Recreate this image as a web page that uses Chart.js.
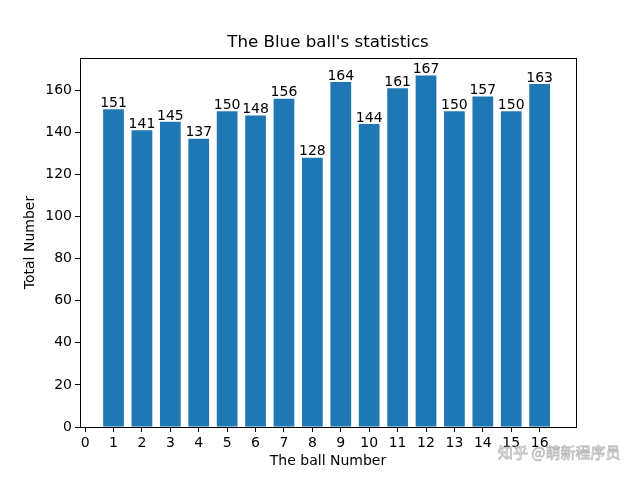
<!DOCTYPE html>
<html>
<head>
<meta charset="utf-8">
<script src="https://cdn.jsdelivr.net/npm/chart.js@4/dist/chart.umd.min.js"></script>
<style>
  html, body { margin: 0; padding: 0; background: #fff; }
  #wrap { width: 640px; height: 480px; }
</style>
</head>
<body>
<div id="wrap"><canvas id="blueChart" width="640" height="480"></canvas></div>
<script>
const balls = [1, 2, 3, 4, 5, 6, 7, 8, 9, 10, 11, 12, 13, 14, 15, 16];
const counts = [151, 141, 145, 137, 150, 148, 156, 128, 164, 144, 161, 167, 150, 157, 150, 163];
const xTicks = [0, 1, 2, 3, 4, 5, 6, 7, 8, 9, 10, 11, 12, 13, 14, 15, 16];
const yTicks = [0, 20, 40, 60, 80, 100, 120, 140, 160];

const font = 'DejaVu Sans';
const titleText = "The Blue ball's statistics";

// box around the plot area, title over the axes, value labels, watermark
const extras = {
  id: 'extras',
  afterDatasetsDraw(chart) {
    const { ctx, chartArea: a } = chart;
    ctx.save();
    ctx.strokeStyle = '#000';
    ctx.lineWidth = 1;
    ctx.strokeRect(Math.round(a.left) + 0.5, Math.round(a.top) + 0.5,
      Math.round(a.right - a.left), Math.round(a.bottom - a.top));

    ctx.fillStyle = '#000';
    ctx.textAlign = 'center';
    ctx.textBaseline = 'middle';
    ctx.font = '16.7px "' + font + '"';
    ctx.fillText(titleText, (a.left + a.right) / 2, 43);

    ctx.font = '14px "' + font + '"';
    ctx.textBaseline = 'bottom';
    chart.getDatasetMeta(0).data.forEach((bar, k) => {
      ctx.fillText(counts[k], bar.x, bar.y + 1);
    });
    ctx.restore();
  },
  afterDraw(chart) {
    const ctx = chart.ctx;
    ctx.save();
    ctx.font = '15px "Noto Sans CJK SC"';
    ctx.textAlign = 'left';
    ctx.textBaseline = 'middle';
    ctx.lineWidth = 0.8;
    ctx.strokeStyle = 'rgba(170,170,170,0.8)';
    ctx.fillStyle = 'rgba(255,255,255,0.9)';
    ctx.fillText('知乎 @萌新程序员', 498, 452);
    ctx.strokeText('知乎 @萌新程序员', 498, 452);
    ctx.restore();
  }
};

new Chart(document.getElementById('blueChart'), {
  type: 'bar',
  data: {
    datasets: [{
      data: balls.map((b, k) => ({ x: b, y: counts[k] })),
      backgroundColor: '#1f77b4',
      borderWidth: 0,
      inflateAmount: 0,
      barPercentage: 0.73,
      categoryPercentage: 1
    }]
  },
  options: {
    responsive: false,
    animation: false,
    devicePixelRatio: 1,
    layout: { padding: { left: 0, right: 64, top: 58, bottom: 0 } },
    plugins: {
      legend: { display: false },
      tooltip: { enabled: false },
      title: { display: false }
    },
    scales: {
      x: {
        type: 'linear',
        offset: false,
        min: -0.18,
        max: 17.28,
        afterBuildTicks: s => { s.ticks = xTicks.map(v => ({ value: v })); },
        afterFit: s => { s.height = 53; },
        ticks: {
          color: '#000',
          font: { family: font, size: 14 },
          padding: 3,
          maxRotation: 0,
          autoSkip: false
        },
        grid: { offset: false, drawOnChartArea: false, drawTicks: true, tickLength: 5, color: '#000' },
        border: { display: true, color: '#000' },
        title: {
          display: true,
          text: 'The ball Number',
          color: '#000',
          font: { family: font, size: 14 },
          padding: { top: 2, bottom: 10 }
        }
      },
      y: {
        min: 0,
        max: 175.35,
        afterBuildTicks: s => { s.ticks = yTicks.map(v => ({ value: v })); },
        afterFit: s => { s.width = 80; },
        ticks: {
          color: '#000',
          font: { family: font, size: 14 },
          padding: 3
        },
        grid: { drawOnChartArea: false, drawTicks: true, tickLength: 5, color: '#000' },
        border: { display: true, color: '#000' },
        title: {
          display: true,
          text: 'Total Number',
          color: '#000',
          font: { family: font, size: 14 },
          padding: { top: 22, bottom: 4 }
        }
      }
    }
  },
  plugins: [extras]
});
</script>
</body>
</html>
